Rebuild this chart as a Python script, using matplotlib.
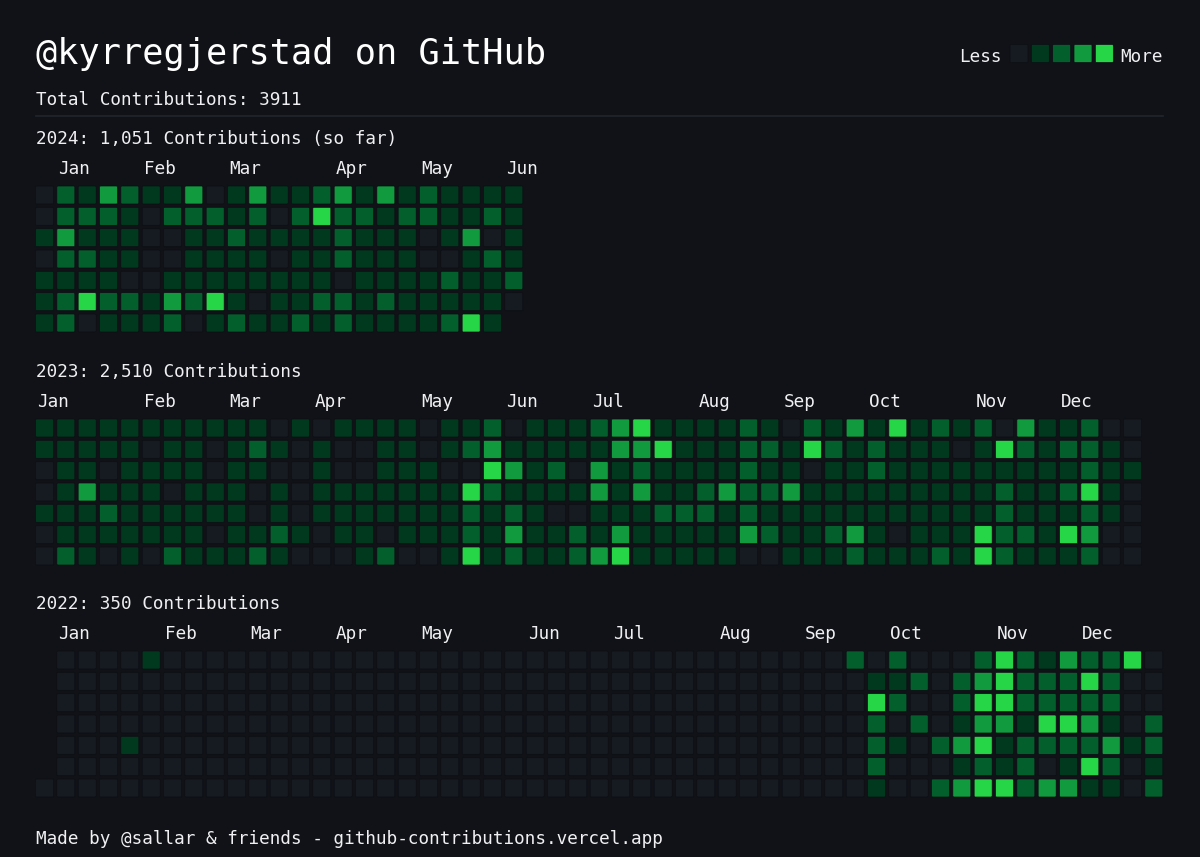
import matplotlib
matplotlib.use("Agg")
import matplotlib.pyplot as plt
from matplotlib.patches import FancyBboxPatch

# contribution levels per weekday row (Sun..Sat), one char per week; '.' = no day
y2024 = [
    "02132113013112313121111",
    "02221022212024221221121",
    "13111001121111211101301",
    "02211001111011211100121",
    "11110011111111011112112",
    "12422132410112212111110",
    "1201112012112121111241.",
]
y2023 = [
    "11111111111010111" "101120111234111121" "02131412120311200",
    "11111011012101001" "101231111133411122" "14212111014212210",
    "01101111011001001" "110043120312111121" "10112111111111211",
    "01311101110101111" "111421111313112322" "31111111112112410",
    "11121111110101111" "111212100111222121" "11111111112111210",
    "01111111011210110" "111213112131111132" "11231011142214300",
    "02101021112100012" "001412112341111100" "11121112142111200",
]
y2022 = [
    ".00001" "00000000000000000000000000000000" "202000242132240",
    "." "00000000000000000000000000000000000000" "11202342224200",
    "." "00000000000000000000000000000000000000" "42002442222200",
    "." "00000000000000000000000000000000000000" "20201331443102",
    ".0001" "0000000000000000000000000000000000" "21023412222312",
    "." "00000000000000000000000000000000000000" "20001212014201",
    "0" "00000000000000000000000000000000000000" "10023442331102",
]

months_2024 = [("Jan", 1), ("Feb", 5), ("Mar", 9), ("Apr", 14), ("May", 18), ("Jun", 22)]
months_2023 = [("Jan", 0), ("Feb", 5), ("Mar", 9), ("Apr", 13), ("May", 18), ("Jun", 22),
               ("Jul", 26), ("Aug", 31), ("Sep", 35), ("Oct", 39), ("Nov", 44), ("Dec", 48)]
months_2022 = [("Jan", 1), ("Feb", 6), ("Mar", 10), ("Apr", 14), ("May", 18), ("Jun", 23),
               ("Jul", 27), ("Aug", 32), ("Sep", 36), ("Oct", 40), ("Nov", 45), ("Dec", 49)]

headers = ["2024: 1,051 Contributions (so far)", "2023: 2,510 Contributions", "2022: 350 Contributions"]

bg = "#101217"
level_colors = ["#161b22", "#01391e", "#03602c", "#129a3e", "#27d646"]
fg = "#f0f0f2"
mono = "DejaVu Sans Mono"

fig = plt.figure(figsize=(12, 8.57), dpi=100)
fig.patch.set_facecolor(bg)
ax = fig.add_axes([0, 0, 1, 1])
ax.set_xlim(0, 1200)
ax.set_ylim(857, 0)
ax.axis("off")
ax.set_facecolor(bg)

x0 = 35.5
pitch = 64 / 3
cell = 18


def draw_cell(x, y, lvl):
    ax.add_patch(FancyBboxPatch((x, y), cell, cell,
                                boxstyle="round,pad=0,rounding_size=1.2",
                                fc=level_colors[lvl], ec="#0c0f13", lw=0.5))


ax.text(36, 64, "@kyrregjerstad on GitHub", family=mono, fontsize=25.4,
        color="white", va="baseline")
ax.text(36, 105, "Total Contributions: 3911", family=mono, fontsize=12.7,
        color=fg, va="baseline")
ax.plot([36, 1163], [115.5, 115.5], color="#22262c", lw=1.2)

# legend
ax.text(1002, 62, "Less", family=mono, fontsize=12.7, color=fg, va="baseline", ha="right")
for i in range(5):
    draw_cell(1010 + i * pitch, 44.5, i)
ax.text(1120, 62, "More", family=mono, fontsize=12.7, color=fg, va="baseline")

tops = [186, 419, 651]
for grid, months, head, top in zip([y2024, y2023, y2022],
                                   [months_2024, months_2023, months_2022],
                                   headers, tops):
    ax.text(36, top - 42, head, family=mono, fontsize=12.7, color=fg, va="baseline")
    for name, col in months:
        ax.text(x0 + col * pitch + 1.5, top - 12, name, family=mono, fontsize=12.7,
                color=fg, va="baseline")
    for r, row in enumerate(grid):
        for c, ch in enumerate(row):
            if ch == ".":
                continue
            draw_cell(x0 + c * pitch, top + r * pitch, int(ch))

ax.text(36, 844, "Made by @sallar & friends - github-contributions.vercel.app",
        family=mono, fontsize=12.7, color=fg, va="baseline")

fig.savefig("out.png", dpi=100, facecolor=bg)
